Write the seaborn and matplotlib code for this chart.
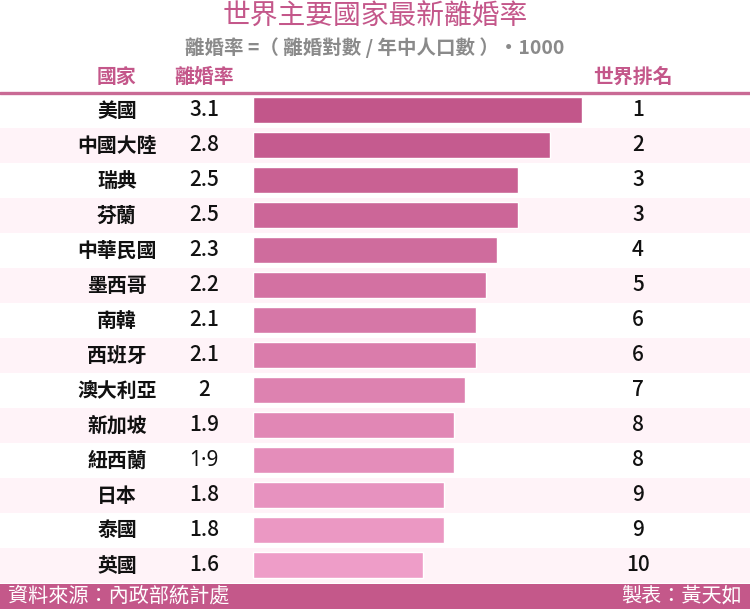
import matplotlib
matplotlib.use('Agg')
import matplotlib.pyplot as plt
from matplotlib.patches import Rectangle
from matplotlib.lines import Line2D
import seaborn as sns
import pandas as pd

countries = ['美國', '中國大陸', '瑞典', '芬蘭', '中華民國', '墨西哥', '南韓',
             '西班牙', '澳大利亞', '新加坡', '紐西蘭', '日本', '泰國', '英國']
rates = [3.1, 2.8, 2.5, 2.5, 2.3, 2.2, 2.1, 2.1, 2.0, 1.9, 1.9, 1.8, 1.8, 1.6]
rate_labels = ['3.1', '2.8', '2.5', '2.5', '2.3', '2.2', '2.1', '2.1', '2',
               '1.9', '1·9', '1.8', '1.8', '1.6']
ranks = ['1', '2', '3', '3', '4', '5', '6', '6', '7', '8', '8', '9', '9', '10']

sns.set_theme(style='white')
plt.rcParams['font.family'] = ['Noto Sans CJK TC', 'DejaVu Sans']
NUMFONT = ['Noto Sans CJK JP', 'DejaVu Sans']

W, H = 750, 609
PINK = '#C4578A'

def fx(x):
    return x / W

def fy(y):
    return 1 - y / H

fig = plt.figure(figsize=(7.5, 6.09), dpi=100)
fig.patch.set_facecolor('white')

# axes covering the rows, 35 px per row
top, bottom = 92.5, 582.5
ax = fig.add_axes([0, fy(bottom), 1, (bottom - top) / H])

df = pd.DataFrame({'country': countries, 'rate': rates})
pal = sns.blend_palette(['#C2568A', '#EE9DC8'], len(countries))

# alternate row bands
for i in range(len(countries)):
    if i % 2 == 1:
        ax.axhspan(i - 0.5, i + 0.5, color='#FFF3F8', zorder=0, lw=0)

sns.barplot(data=df, x='rate', y='country', hue='country', palette=pal,
            legend=False, orient='h', width=0.75, ax=ax, zorder=2,
            saturation=1)

x0 = 253 / 106.0
ax.set_xlim(-x0, (W - 253) / 106.0)
ax.set_ylim(len(countries) - 0.5, -0.5)
ax.axis('off')

tr = ax.get_yaxis_transform()
for i in range(len(countries)):
    ax.text(fx(117), i, countries[i], transform=tr,
            ha='center', va='center', fontsize=14.3, fontweight='bold', color='#111111')
    fam = ['Noto Sans', 'DejaVu Sans'] if '·' in rate_labels[i] else NUMFONT
    ax.text(fx(204), i, rate_labels[i], transform=tr, family=fam,
            ha='center', va='center', fontsize=15, fontweight='medium', color='#111111')
    ax.text(fx(638), i, ranks[i], transform=tr, family=NUMFONT,
            ha='center', va='center', fontsize=15, fontweight='medium', color='#111111')

# title and headers
fig.text(fx(375), fy(17), '世界主要國家最新離婚率', ha='center', va='center',
         fontsize=20, color=PINK, fontweight='medium')
fig.text(fx(375), fy(48), '離婚率 =（ 離婚對數 / 年中人口數 ）・1000', ha='center', va='center',
         fontsize=14, color='#8A8A8A', fontweight='bold')
fig.text(fx(117), fy(76), '國家', ha='center', va='center', fontsize=14.3, color=PINK, fontweight='bold')
fig.text(fx(204), fy(76), '離婚率', ha='center', va='center', fontsize=14.3, color=PINK, fontweight='bold')
fig.text(fx(633), fy(76), '世界排名', ha='center', va='center', fontsize=14.3, color=PINK, fontweight='bold')

fig.add_artist(Line2D([0, 1], [fy(92.5), fy(92.5)], color='#C96A95', lw=2.4))

# footer
fig.add_artist(Rectangle((0, 0), 1, fy(584), color='#C4588A', lw=0))
fig.text(fx(8), fy(596.5), '資料來源：內政部統計處', ha='left', va='center',
         fontsize=14.5, color='white', fontweight='medium')
fig.text(fx(742), fy(596.5), '製表：黃天如', ha='right', va='center',
         fontsize=14.5, color='white', fontweight='medium')

fig.savefig('out.png', dpi=100)
